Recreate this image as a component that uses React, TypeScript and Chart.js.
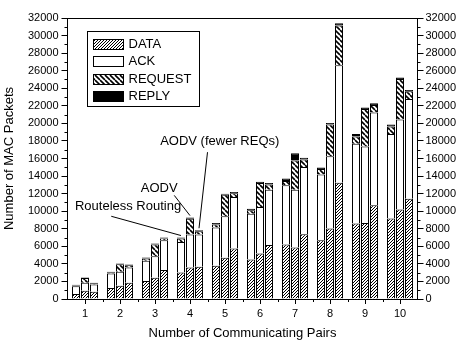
import React, { useEffect, useRef } from 'react';
import { Chart, registerables } from 'chart.js';

Chart.register(...registerables);

// ---------- data ----------
const categories = ['1', '2', '3', '4', '5', '6', '7', '8', '9', '10'];
const protocolNames = ['Routeless Routing', 'AODV', 'AODV (fewer REQs)'];
const segmentNames = ['DATA', 'ACK', 'REQUEST', 'REPLY'];

const rrData = [570, 1250, 2040, 3030, 3780, 4500, 6200, 6700, 8590, 9160];
const rrAck = [880, 1650, 2310, 3470, 4350, 5220, 6740, 7480, 9080, 9640];
const rrRequest = [80, 100, 270, 380, 350, 380, 490, 620, 830, 830];
const rrReply = [100, 100, 110, 120, 180, 190, 300, 180, 300, 230];

const aodvData = [950, 1510, 2420, 3600, 4690, 5180, 5860, 8020, 8650, 10180];
const aodvAck = [910, 1590, 2460, 3740, 4730, 5300, 6590, 8250, 8710, 10250];
const aodvRequest = [520, 870, 1340, 1810, 2450, 2720, 3320, 3610, 4290, 4620];
const aodvReply = [80, 80, 100, 120, 130, 150, 830, 170, 170, 180];

const fewData = [830, 1860, 3290, 3670, 5750, 6160, 7380, 13240, 10670, 11430];
const fewAck = [830, 1730, 3410, 3670, 5860, 6290, 7640, 13390, 10580, 11350];
const fewRequest = [120, 260, 200, 380, 440, 600, 880, 4520, 850, 870];
const fewReply = [80, 80, 100, 110, 130, 150, 180, 250, 180, 150];

const yMin = 0;
const yMax = 32000;
const yStep = 2000;

const annotationTexts = ['Routeless Routing', 'AODV', 'AODV (fewer REQs)'];
const annotationLabelX = [1.23, 2.12, 3.85];
const annotationLabelY = [10550, 12600, 17930];
const annotationLineX = [0.75, 2.55, 3.5];
const annotationLineY = [9420, 11800, 16720];
const annotationTargetCategory = 3;

const FONT = "'Liberation Sans', Arial, Helvetica, sans-serif";

function hatchPattern(ctx: CanvasRenderingContext2D, dir: 'up' | 'down', size: number, lw: number) {
  const c = document.createElement('canvas');
  c.width = size;
  c.height = size;
  const g = c.getContext('2d')!;
  g.fillStyle = '#ffffff';
  g.fillRect(0, 0, size, size);
  g.strokeStyle = '#000000';
  g.lineWidth = lw;
  g.beginPath();
  for (const k of [-size, 0, size]) {
    if (dir === 'up') {
      g.moveTo(k, size);
      g.lineTo(k + size, 0);
    } else {
      g.moveTo(k, 0);
      g.lineTo(k + size, size);
    }
  }
  g.stroke();
  return ctx.createPattern(c, 'repeat') as CanvasPattern;
}

export default function App() {
  const canvasRef = useRef<HTMLCanvasElement | null>(null);

  useEffect(() => {
    document.body.style.margin = '0';
    const canvas = canvasRef.current!;
    const ctx = canvas.getContext('2d')!;
    const dataFill = hatchPattern(ctx, 'up', 3, 1);
    const reqFill = hatchPattern(ctx, 'down', 5, 1.6);
    const fills = [dataFill, '#ffffff', reqFill, '#000000'];

    const protocolSeries = [
      [rrData, rrAck, rrRequest, rrReply],
      [aodvData, aodvAck, aodvRequest, aodvReply],
      [fewData, fewAck, fewRequest, fewReply],
    ];

    const datasets: any[] = [];
    protocolSeries.forEach((segs, p) => {
      segs.forEach((vals, s) => {
        datasets.push({
          label: segmentNames[s],
          data: vals,
          stack: protocolNames[p],
          backgroundColor: fills[s],
          borderColor: '#000000',
          borderWidth: 1,
          borderSkipped: 'start',
          inflateAmount: 0,
          categoryPercentage: 27 / 35,
          barPercentage: 8 / 9,
        });
      });
    });

    const decorPlugin = {
      id: 'decor',
      afterDraw(chart: any) {
        const c: CanvasRenderingContext2D = chart.ctx;
        const area = chart.chartArea;
        const xs = chart.scales.x;
        const ys = chart.scales.y;
        c.save();
        c.strokeStyle = '#000';
        c.lineWidth = 1;
        // top frame line
        c.beginPath();
        c.moveTo(area.left, Math.round(area.top) + 0.5);
        c.lineTo(area.right, Math.round(area.top) + 0.5);
        c.stroke();
        // minor ticks
        const catW = xs.getPixelForValue(1) - xs.getPixelForValue(0);
        c.beginPath();
        for (let i = 0; i < categories.length - 1; i++) {
          const px = Math.round(xs.getPixelForValue(i) + catW / 2) + 0.5;
          c.moveTo(px, area.bottom);
          c.lineTo(px, area.bottom + 3);
        }
        for (let v = yMin + yStep / 2; v < yMax; v += yStep) {
          const py = Math.round(ys.getPixelForValue(v)) + 0.5;
          c.moveTo(area.left - 3, py);
          c.lineTo(area.left, py);
          c.moveTo(area.right, py);
          c.lineTo(area.right + 3, py);
        }
        c.stroke();

        // legend box
        const bx = Math.round(area.left + 19) + 0.5;
        const by = Math.round(area.top + 13) + 0.5;
        const bw = 112;
        const bh = 75;
        c.fillStyle = '#fff';
        c.fillRect(bx, by, bw, bh);
        c.strokeRect(bx, by, bw, bh);
        c.font = `13px ${FONT}`;
        c.textBaseline = 'middle';
        c.textAlign = 'left';
        for (let s = 0; s < segmentNames.length; s++) {
          const cy = by + 12.5 + s * 17.3;
          const sx = bx + 6;
          const sy = Math.round(cy - 5) + 0.5;
          c.fillStyle = fills[s] as any;
          c.fillRect(sx, sy, 30, 10);
          c.strokeRect(sx, sy, 30, 10);
          c.fillStyle = '#000';
          c.fillText(segmentNames[s], sx + 35, cy + 0.5);
        }

        // annotations
        const toX = (idx: number) => xs.getPixelForValue(0) + idx * catW;
        c.font = `13px ${FONT}`;
        c.textAlign = 'center';
        c.textBaseline = 'middle';
        for (let a = 0; a < annotationTexts.length; a++) {
          c.fillStyle = '#000';
          c.fillText(annotationTexts[a], toX(annotationLabelX[a]), ys.getPixelForValue(annotationLabelY[a]));
          const meta = chart.getDatasetMeta(a * 4 + 3);
          const el = meta.data[annotationTargetCategory];
          c.beginPath();
          c.moveTo(toX(annotationLineX[a]), ys.getPixelForValue(annotationLineY[a]));
          c.lineTo(el.x, el.y - 2);
          c.stroke();
        }
        c.restore();
      },
    };

    const tickFont = { family: FONT, size: 11 };
    const titleFont = { family: FONT, size: 13 };
    const plainNumber = (v: any) => String(v);

    const chart = new Chart(canvas, {
      type: 'bar',
      data: { labels: categories, datasets },
      plugins: [decorPlugin],
      options: {
        responsive: false,
        animation: false,
        maintainAspectRatio: false,
        layout: { padding: { top: 18, left: 0, right: 0, bottom: 0 } },
        plugins: {
          legend: { display: false },
          tooltip: { enabled: false },
          title: { display: false },
        },
        scales: {
          x: {
            stacked: true,
            offset: true,
            grid: { display: true, drawOnChartArea: false, offset: false, tickLength: 5, color: '#000', lineWidth: 1 },
            border: { display: true, color: '#000', width: 1 },
            ticks: { color: '#000', font: tickFont, padding: 3, maxRotation: 0 },
            title: {
              display: true,
              text: 'Number of Communicating Pairs',
              color: '#000',
              font: titleFont,
              padding: { top: 0, bottom: 1 },
            },
            afterFit: (scale: any) => {
              scale.height = 43;
            },
          },
          y: {
            stacked: true,
            min: yMin,
            max: yMax,
            position: 'left',
            grid: { display: true, drawOnChartArea: false, tickLength: 6, color: '#000', lineWidth: 1 },
            border: { display: true, color: '#000', width: 1 },
            ticks: { stepSize: yStep, color: '#000', font: tickFont, padding: 3, callback: plainNumber },
            title: {
              display: true,
              text: 'Number of MAC Packets',
              color: '#000',
              font: titleFont,
              padding: { top: 2, bottom: 0 },
            },
            afterFit: (scale: any) => {
              scale.width = 67.5;
            },
          },
          y2: {
            min: yMin,
            max: yMax,
            position: 'right',
            grid: { display: true, drawOnChartArea: false, tickLength: 6, color: '#000', lineWidth: 1 },
            border: { display: true, color: '#000', width: 1 },
            ticks: { stepSize: yStep, color: '#000', font: tickFont, padding: 2, callback: plainNumber },
            afterFit: (scale: any) => {
              scale.width = 41.5;
            },
          },
        },
      } as any,
    });

    return () => {
      chart.destroy();
    };
  }, []);

  return (
    <div style={{ width: 459, height: 342, position: 'relative', background: '#fff' }}>
      <canvas ref={canvasRef} width={459} height={342} style={{ display: 'block' }} />
    </div>
  );
}
